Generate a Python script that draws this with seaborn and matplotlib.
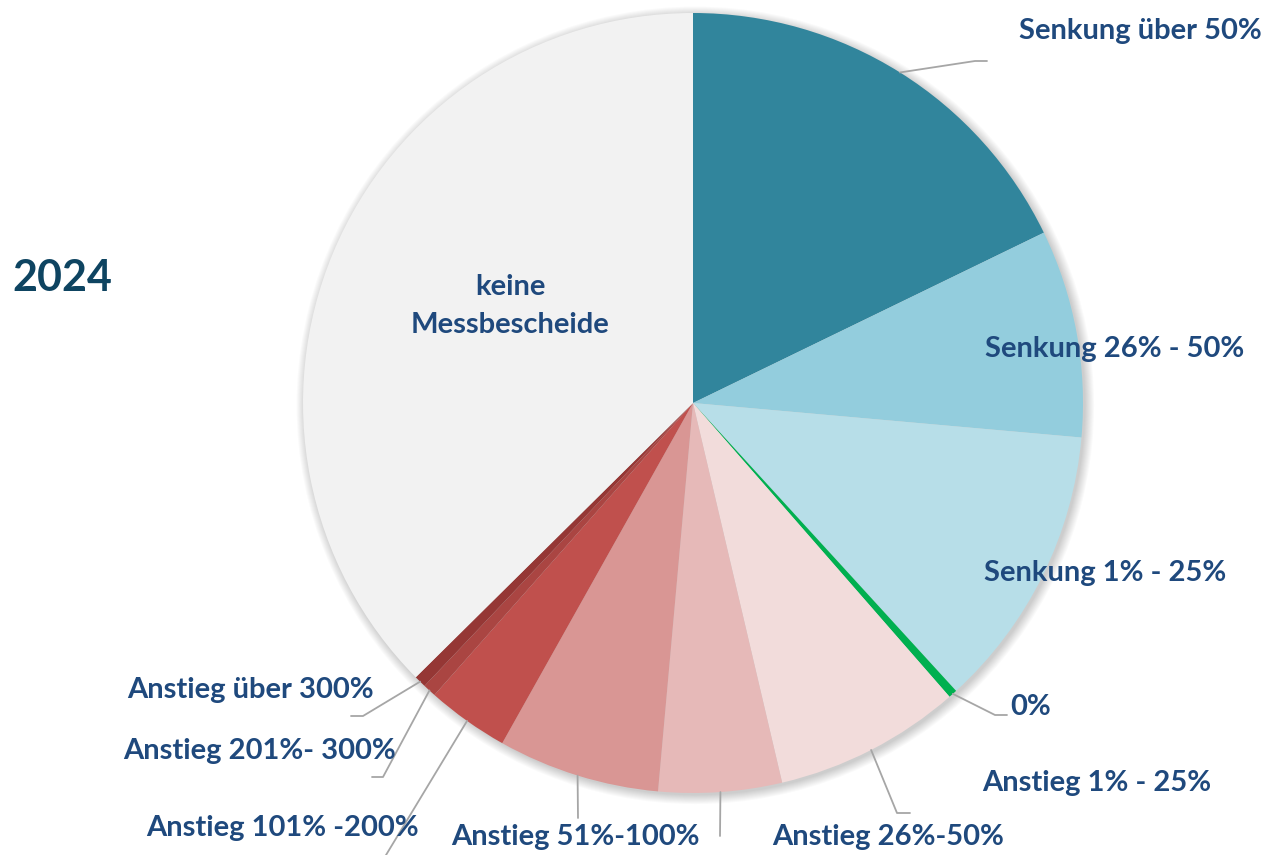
import numpy as np
import matplotlib
matplotlib.use("Agg")
import matplotlib.pyplot as plt
import seaborn as sns
from matplotlib.patches import Circle

# shares of each category (percent of all cases), clockwise from 12 o'clock
categories = ["Senkung über 50%", "Senkung 26% - 50%", "Senkung 1% - 25%", "0%",
              "Anstieg 1% - 25%", "Anstieg 26%-50%", "Anstieg 51%-100%",
              "Anstieg 101% -200%", "Anstieg 201%- 300%", "Anstieg über 300%",
              "keine\nMessbescheide"]
shares = [17.8, 8.6, 11.8, 0.36, 7.75, 5.1, 6.7, 3.4, 0.55, 0.5, 37.4]
colors = ["#31859C", "#93CDDD", "#B7DEE8", "#00B050", "#F2DCDB", "#E6B9B8",
          "#D99694", "#C0504D", "#AA4542", "#953735", "#F2F2F2"]
year = "2024"

# label placement in pixels of the 1269x855 image (centre of text)
label_px = [(1140, 31), (1115, 349), (1105, 573), (1031, 707), (1097, 783),
            (888, 837), (575, 837), (282, 828), (260, 751), (250, 690), (510, 306)]
# leader line bend/end points per wedge (pixels), None = no leader
leader_px = [[(975, 61), (987, 61)], None, None, [(995, 715), (1007, 715)],
             [(897, 813), (910, 813)], [(720, 836)], [(578, 818)],
             [(383, 860)], [(383, 777), (372, 777)], [(363, 716), (351, 716)], None]

W, H = 1269, 855
cx, cy, R = 693, 403, 390


def to_data(p):
    return ((p[0] - cx) / R, (cy - p[1]) / R)


sns.set_theme(style="white")
plt.rcParams['font.family'] = ['Lato', 'DejaVu Sans']

fig = plt.figure(figsize=(W / 100, H / 100), dpi=100)
ax = fig.add_axes([0, 0, 1, 1])

# soft shadow
for i in range(10):
    ax.add_patch(Circle((0.006, -0.006), 1.0 + 0.0025 * i, color="black",
                        alpha=0.018, lw=0, zorder=0))

wedges, _ = ax.pie(shares, colors=colors, startangle=90, counterclock=False,
                   radius=1.0, wedgeprops=dict(linewidth=0))
for w in wedges:
    w.set_zorder(2)

ax.set_xlim(-cx / R, (W - cx) / R)
ax.set_ylim(-(H - cy) / R, cy / R)
ax.set_aspect("equal")
ax.axis("off")

label_color = "#1F497D"
for i, (txt, pos) in enumerate(zip(categories, label_px)):
    x, y = to_data(pos)
    ax.text(x, y, txt, ha="center", va="center", fontsize=21,
            fontweight="bold", color=label_color, zorder=5, linespacing=1.55)
    if leader_px[i] is not None:
        w = wedges[i]
        ang = np.deg2rad((w.theta1 + w.theta2) / 2)
        pts = [(np.cos(ang), np.sin(ang))] + [to_data(p) for p in leader_px[i]]
        xs, ys = zip(*pts)
        ax.plot(xs, ys, color="#A6A6A6", lw=1.3, zorder=3, clip_on=False)

x, y = to_data((62, 278))
ax.text(x, y, year, ha="center", va="center", fontsize=31, fontweight="bold",
        color="#0E4461")

fig.savefig("out.png", dpi=100)
